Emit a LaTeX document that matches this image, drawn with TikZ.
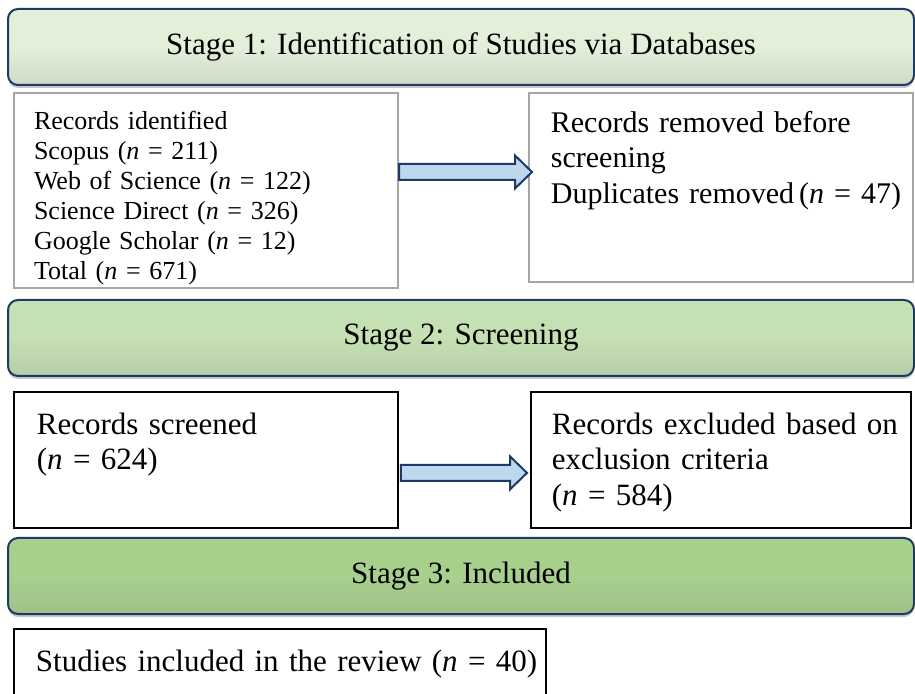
\documentclass[tikz,border=0pt]{standalone}
\usepackage{fontspec}
\setmainfont{Liberation Serif}
\usepackage{tikz}
\usetikzlibrary{calc, shadows}

\definecolor{stageone}{HTML}{E2EFD9}
\definecolor{stagetwo}{HTML}{C5E0B3}
\definecolor{stagethree}{HTML}{A8D08D}
\definecolor{bannerline}{HTML}{1F3864}
\definecolor{arrowfill}{HTML}{BDD7EE}
\definecolor{greyline}{HTML}{A6A6A6}

% block arrow from a start point to a tip
\newcommand{\flowarrow}[2]{%
  \draw[arrowbody] ($(#1)+(0,-8)$) -- ($(#2)+(-17,-8)$) -- ($(#2)+(-17,-16.5)$) -- (#2)
    -- ($(#2)+(-17,16.5)$) -- ($(#2)+(-17,8)$) -- ($(#1)+(0,8)$) -- cycle;}

\begin{document}
\begin{tikzpicture}[
    x=0.5pt, y=-0.5pt,
    stage/.style={draw=bannerline, line width=1pt, rounded corners=5pt, anchor=north west,
        minimum width=453pt, minimum height=38pt, inner sep=0pt,
        font=\fontsize{15.5}{17.75}\selectfont,
        drop shadow={shadow xshift=0pt, shadow yshift=-1.5pt, opacity=.45}},
    idbox/.style={draw=greyline, line width=1pt, anchor=north west, align=left,
        font=\fontsize{13}{15}\selectfont},
    record/.style={draw=black, line width=0.9pt, anchor=north west, align=left,
        font=\fontsize{15.5}{17.75}\selectfont},
    arrowbody/.style={fill=arrowfill, draw=bannerline, line width=1pt, line join=miter}
]
    \useasboundingbox (0,0) rectangle (915,694);
    \clip (0,0) rectangle (915,694);

    % Stage banners
    \node[stage, top color=stageone, bottom color=stageone!80!gray, middle color=stageone] (stageA) at (7,8)
        {Stage 1: Identification of Studies via Databases};
    \node[stage, top color=stagetwo, bottom color=stagetwo!80!gray, middle color=stagetwo] (stageB) at (7,299)
        {Stage 2: Screening};
    \node[stage, top color=stagethree, bottom color=stagethree!80!gray, middle color=stagethree] (stageC) at (7,537)
        {Stage 3: Included};

    % Identification
    \node[idbox, text width=172pt, inner xsep=10pt, inner ysep=8.3pt, text height=10pt, text depth=70.9pt] (recid) at (13,92)
        {Records identified\\
         Scopus (\textit{n} = 211)\\
         Web of Science (\textit{n} = 122)\\
         Science Direct (\textit{n} = 326)\\
         Google Scholar (\textit{n} = 12)\\
         Total (\textit{n} = 671)};
    \node[record, draw=greyline, font=\fontsize{15}{17.75}\selectfont, text width=170pt, inner xsep=11pt, inner ysep=8.6pt, text height=11pt, text depth=66.3pt] (removed) at (528,92)
        {Records removed before\\
         screening\\
         \mbox{Duplicates removed\,(\textit{n} = 47)}};

    % Screening
    \node[record, text width=169pt, inner xsep=11.5pt, inner ysep=10.1pt, text height=11pt, text depth=36.8pt] (screened) at (13,391)
        {Records screened\\
         (\textit{n} = 624)};
    \node[record, text width=169pt, inner xsep=10.5pt, inner ysep=10.1pt, text height=11pt, text depth=36.8pt] (excluded) at (530,391)
        {\mbox{Records excluded based on}\\
         exclusion criteria\\
         (\textit{n} = 584)};

    % Included
    \node[record, text width=244pt, inner xsep=11pt, inner ysep=10.1pt, text height=11pt, text depth=18.8pt] (included) at (13,628)
        {\mbox{Studies included in the review (\textit{n} = 40)}};

    % Flows
    \coordinate (a1start) at ($(recid.east)+(0,-18.5)$);
    \coordinate (a1tip) at ($(removed.west |- a1start)+(4,0)$);
    \flowarrow{a1start}{a1tip}
    \coordinate (a2start) at ($(screened.east)+(2,13)$);
    \coordinate (a2tip) at ($(excluded.west |- a2start)+(-3,0)$);
    \flowarrow{a2start}{a2tip}
\end{tikzpicture}
\end{document}
